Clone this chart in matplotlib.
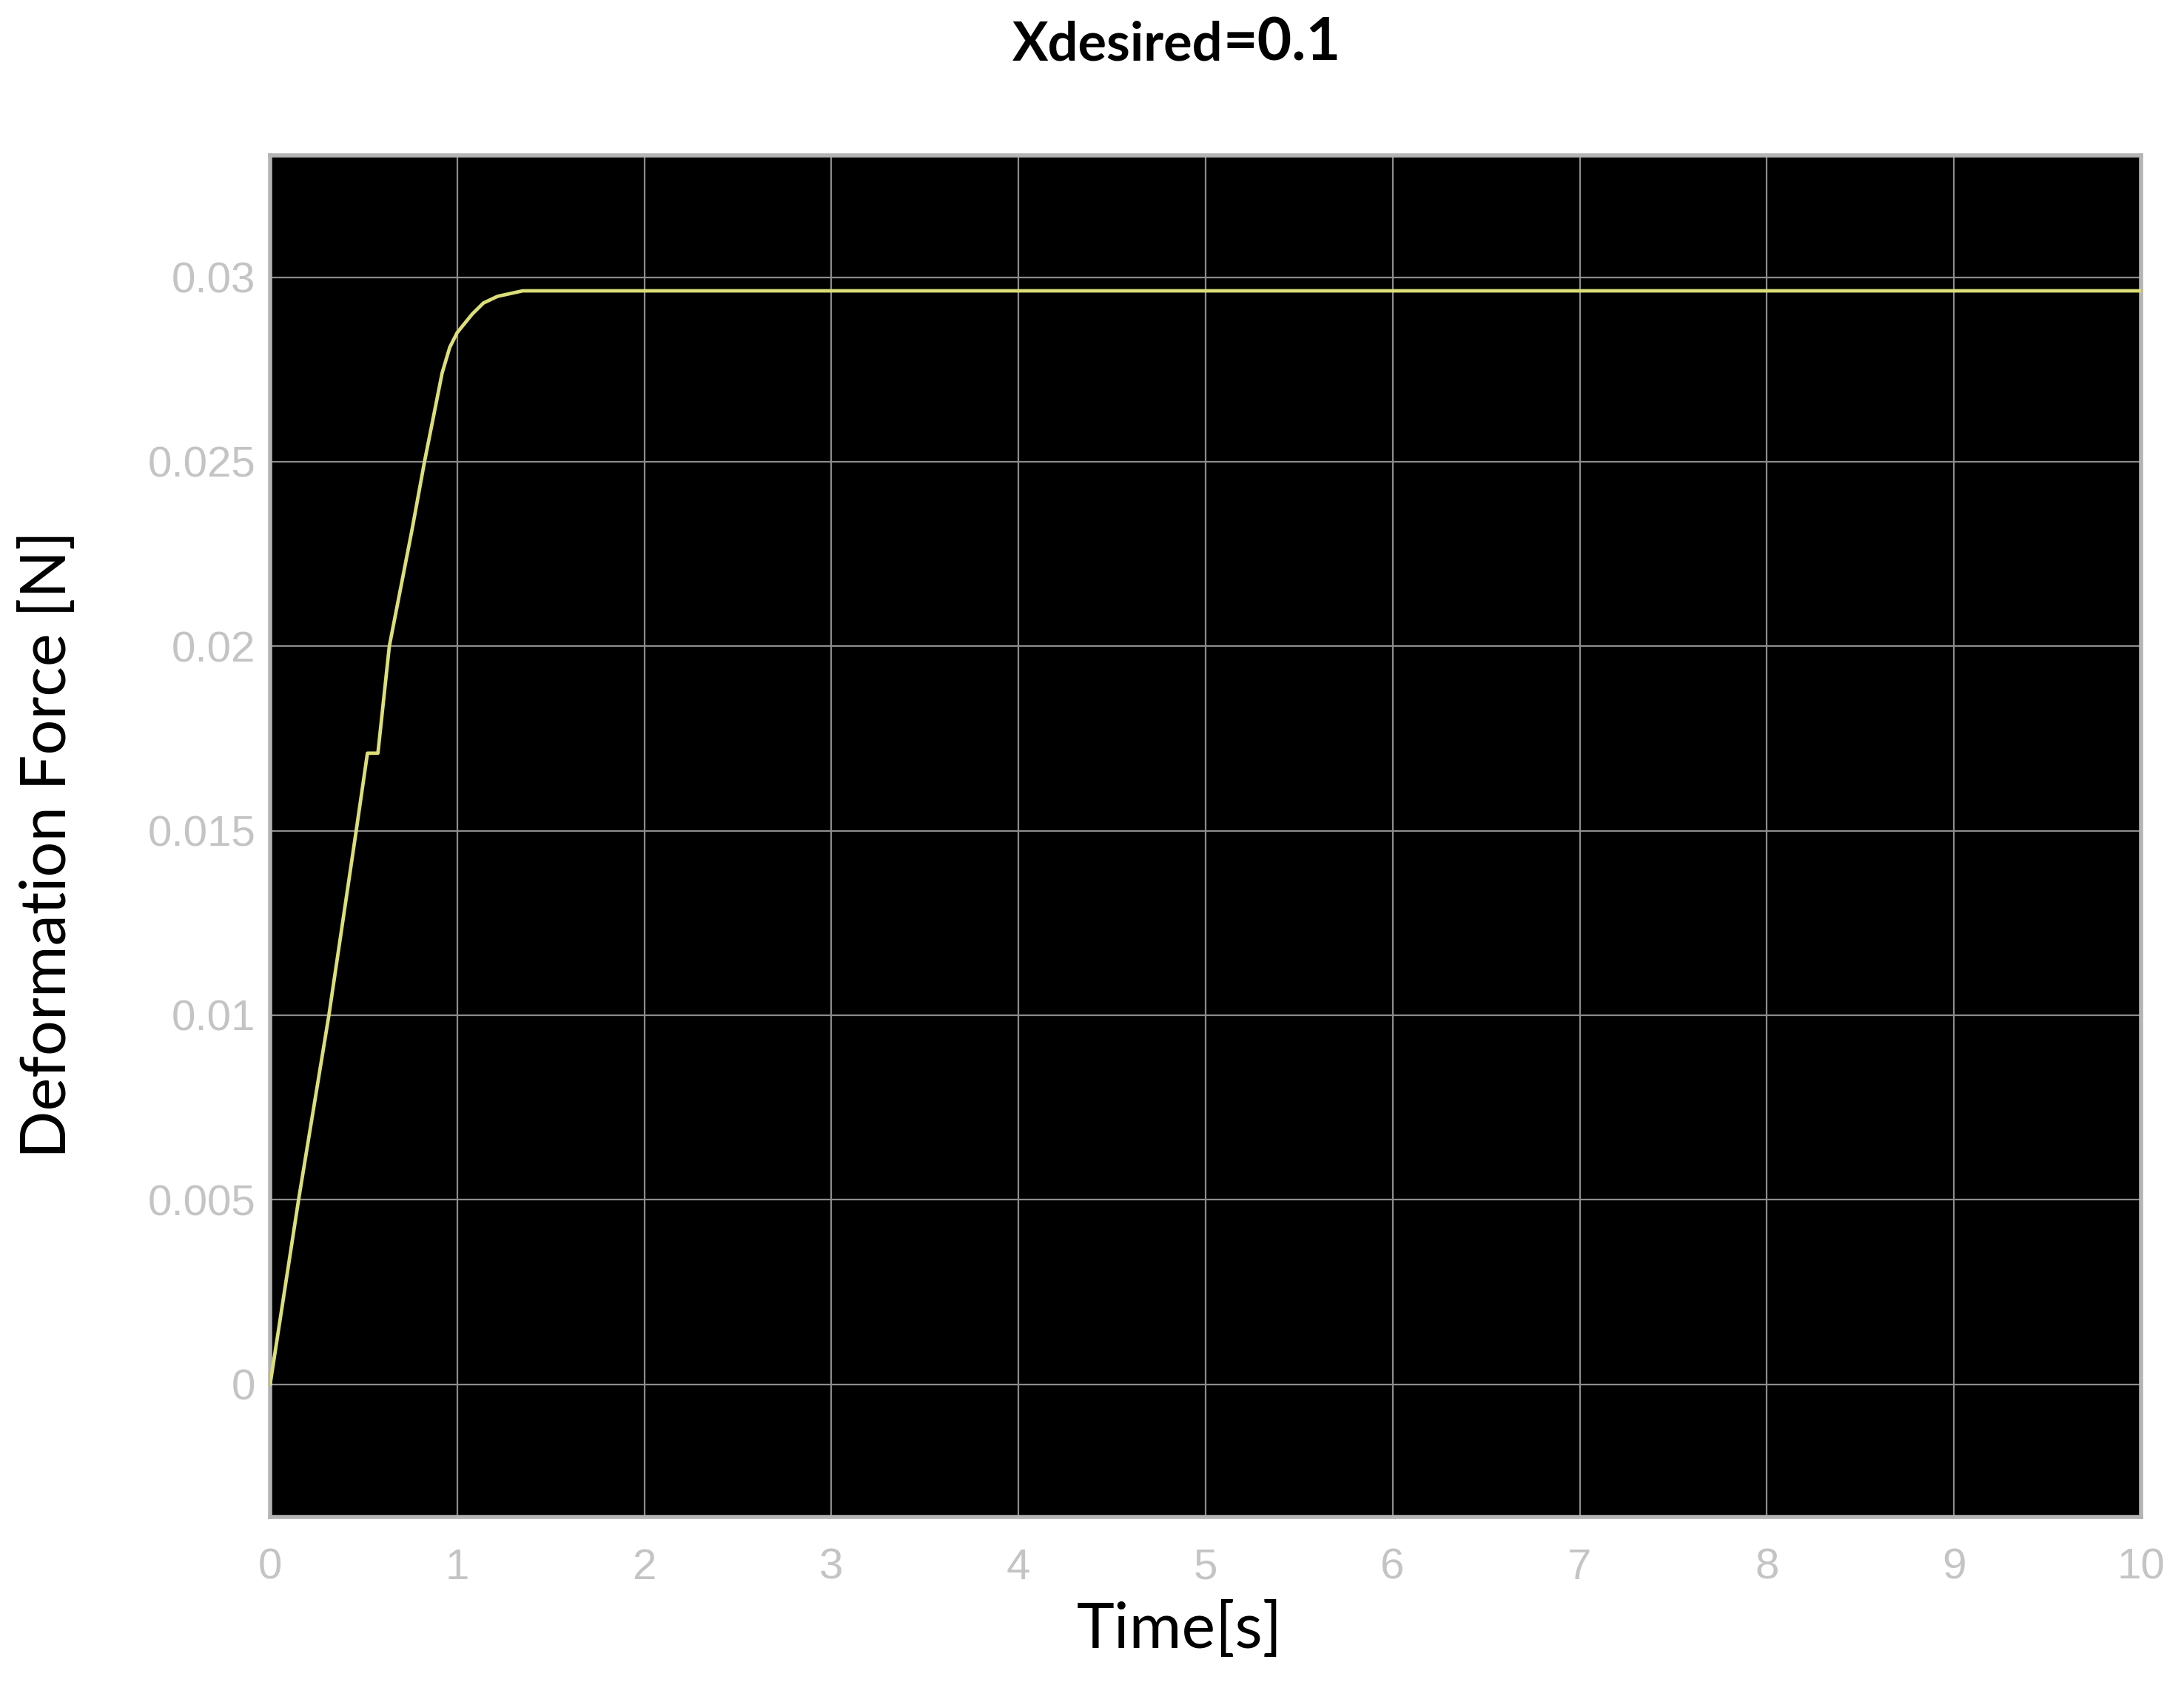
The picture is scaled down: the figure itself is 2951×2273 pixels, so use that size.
import numpy as np
import matplotlib
matplotlib.use("Agg")
import matplotlib.pyplot as plt

# deformation force response for x_desired = 0.1
TIME = [0.0, 0.152, 0.314, 0.46, 0.52, 0.576, 0.637, 0.76, 0.825, 0.88,
        0.919, 0.96, 1.0, 1.08, 1.14, 1.215, 1.35, 10.0]
FORCE = [0.0, 0.005, 0.010, 0.015, 0.0171, 0.0171, 0.020, 0.0232, 0.025, 0.0264,
         0.0274, 0.0281, 0.0285, 0.0290, 0.0293, 0.02948, 0.02963, 0.02963]

X_TICKS = list(range(0, 11))
Y_TICKS = [0, 0.005, 0.01, 0.015, 0.02, 0.025, 0.03]
Y_TICK_LABELS = ["0", "0.005", "0.01", "0.015", "0.02", "0.025", "0.03"]

TICK_FONT = ["Liberation Sans", "DejaVu Sans"]
LABEL_FONT = ["Lato", "DejaVu Sans"]

fig = plt.figure(figsize=(29.51, 22.73), dpi=100)
fig.patch.set_facecolor("white")
ax = fig.add_axes([0.1237, 0.0981, 0.8566, 0.8095])
ax.set_facecolor("black")

ax.plot(TIME, FORCE, color="#dcdf78", lw=3.4, zorder=3)

ax.set_xlim(0, 10)
ax.set_ylim(-0.0036, 0.0333)
ax.set_xticks(X_TICKS)
ax.set_xticklabels([str(t) for t in X_TICKS])
ax.set_yticks(Y_TICKS)
ax.set_yticklabels(Y_TICK_LABELS)

ax.grid(True, color="#8c8c8c", lw=1.6, zorder=1)
ax.tick_params(axis="both", length=0, colors="#c4c4c4", labelsize=42)
ax.tick_params(axis="x", pad=30)
ax.tick_params(axis="y", pad=14)
for lab in ax.get_xticklabels() + ax.get_yticklabels():
    lab.set_family(TICK_FONT)

for side in ["left", "right", "top", "bottom"]:
    ax.spines[side].set_color("#b4b4b4")
    ax.spines[side].set_linewidth(4)

fig.text(0.022, 0.498, "Deformation Force [N]", rotation=90,
         ha="center", va="center", fontsize=61, family=LABEL_FONT)
fig.text(0.540, 0.031, "Time[s]", ha="center", va="center",
         fontsize=62, family=LABEL_FONT)

# title: "Xdesired" slightly smaller than "=0.1", as in the original
fig.text(0.560, 0.964, "Xdesired", ha="right", va="baseline",
         fontsize=52, fontweight="bold", family=LABEL_FONT)
fig.text(0.560, 0.964, "=0.1", ha="left", va="baseline",
         fontsize=58, fontweight="bold", family=LABEL_FONT)

fig.savefig("out.png", dpi=100, facecolor="white")
